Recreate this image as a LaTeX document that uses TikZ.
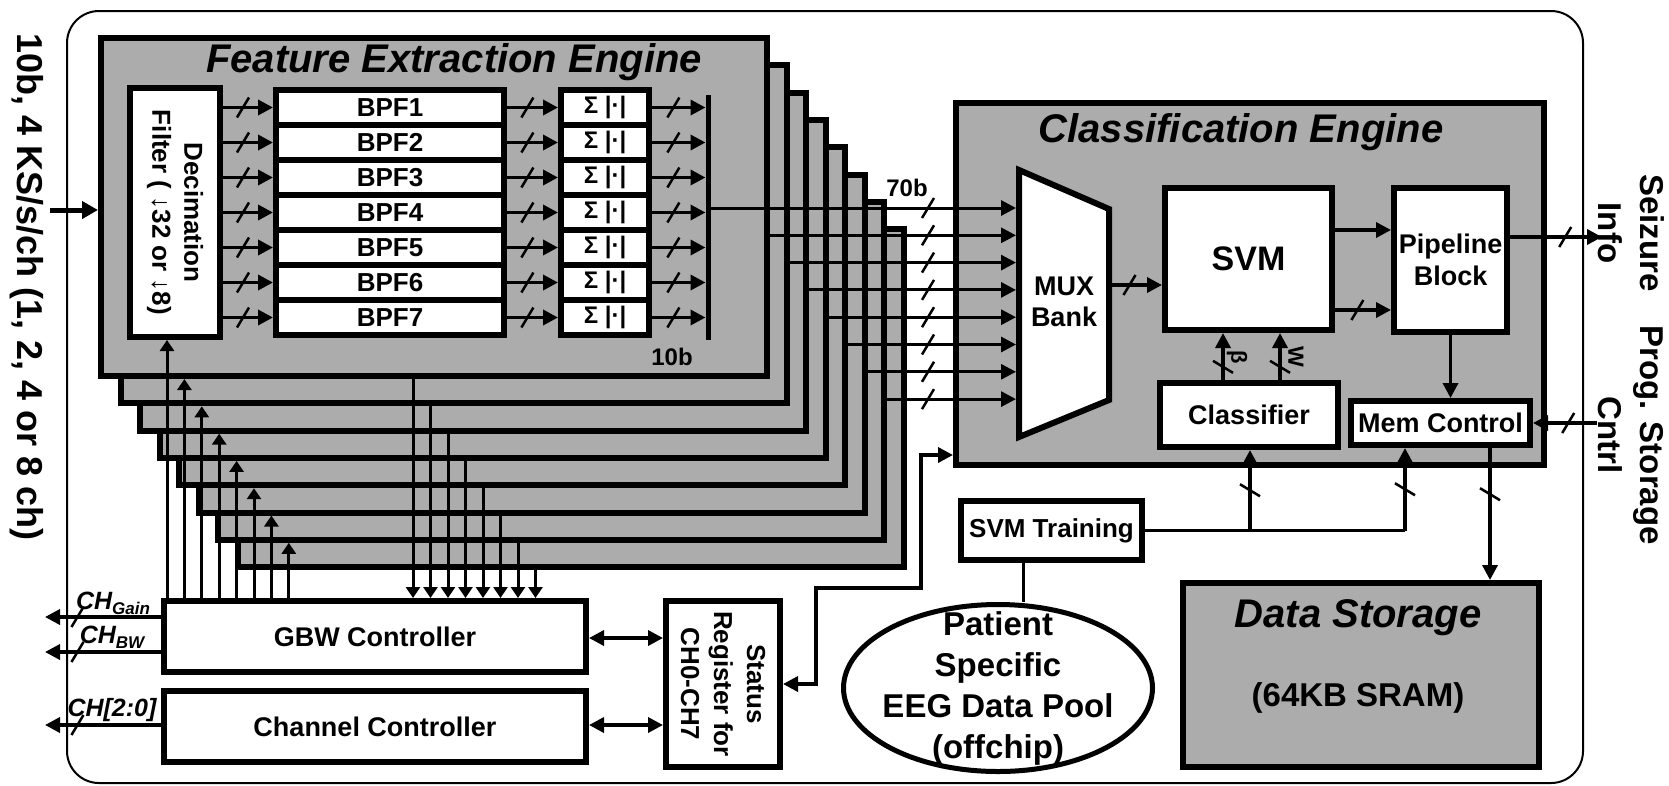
\documentclass[tikz,border=0pt]{standalone}
\usepackage{fontspec}
\setmainfont{Liberation Sans}
\usetikzlibrary{arrows.meta,decorations.markings,shapes.geometric,calc}
\definecolor{fillgray}{RGB}{172,172,172}
\newcommand{\fsb}[2]{\fontsize{#1}{#2}\selectfont}
\begin{document}
\begin{tikzpicture}[x=1pt,y=-1pt,
 box/.style={draw,line width=6pt,fill=white,inner sep=0pt,font=\bfseries\fsb{27}{32}},
 gbox/.style={box,fill=fillgray},
 layer/.style={draw,line width=6pt,fill=fillgray},
 arr/.style={line width=3.5pt,-{Triangle[length=15pt,width=15pt]}},
 darr/.style={line width=3.5pt,{Triangle[length=15pt,width=15pt]}-{Triangle[length=15pt,width=15pt]}},
 ctl/.style={line width=3pt,-{Triangle[length=11pt,width=14pt]}},
 wire/.style={line width=3pt},
 busmark/.style={postaction={decorate,decoration={markings,mark=at position #1 with {\draw[-,line width=2.5pt] (-6pt,-10pt) -- (6pt,10pt);}}}},
 lbl/.style={font=\bfseries\fsb{24}{28},inner sep=0pt},
 rlbl/.style={rotate=-90,align=center,inner sep=0pt},
]
\useasboundingbox (0,0) rectangle (1669,785);

% outer frame
\draw[line width=2pt,rounded corners=32pt] (67,11) rectangle (1583,783);

% input label and arrow
\node[rlbl,font=\bfseries\fsb{36}{40}] (inlbl) at (27,287) {10b, 4 KS/s/ch (1, 2, 4 or 8 ch)};
\coordinate (inpt) at (50,210);
\coordinate (fein) at (98,210);
\draw[line width=5pt,-{Triangle[length=16pt,width=17pt]}] (inpt) -- (fein);

% classification engine
\node[gbox,minimum width=588pt,minimum height=362pt] (ce) at (1250,284) {};
\node[font=\bfseries\itshape\fsb{40}{44}] (cetitle) at (1241,132) {Classification Engine};
\draw[line width=6pt,fill=white,line join=miter] (1019,170) -- (1109,209) -- (1109,400) -- (1019,437) -- cycle;
\node[font=\bfseries\fsb{27}{31},align=center] (mux) at (1064,302) {MUX\\Bank};
\coordinate (muxout) at (1112,285);
\node[box,minimum width=167pt,minimum height=142pt,font=\bfseries\fsb{34}{38}] (svm) at (1248.5,259) {SVM};
\node[box,minimum width=113pt,minimum height=144pt,align=center] (pipe) at (1450.5,260) {Pipeline\\Block};
\node[box,minimum width=178pt,minimum height=64pt] (cls) at (1249,415) {Classifier};
\node[box,minimum width=179pt,minimum height=44pt] (mem) at (1440.5,423) {Mem Control};

\draw[arr,busmark=0.35] (muxout) -- (svm.west |- muxout);
\draw[arr] (svm.east |- 0,230) -- (pipe.west |- 0,230);
\draw[arr,busmark=0.4] (svm.east |- 0,310) -- (pipe.west |- 0,310);
\draw[arr,busmark=0.28] (cls.north -| 1223,0) -- (svm.south -| 1223,0);
\draw[arr,busmark=0.28] (cls.north -| 1280,0) -- (svm.south -| 1280,0);
\node[rlbl,font=\bfseries\fsb{22}{24}] (betalbl) at (1237,357) {β};
\node[rlbl,font=\bfseries\fsb{22}{24}] (wlbl) at (1296,357) {W};
\draw[arr] (pipe.south) -- (mem.north -| pipe.south);

% right side labels
\node[rlbl,font=\bfseries\fsb{33}{42}] (seiz) at (1631,233) {Seizure\\Info};
\node[rlbl,font=\bfseries\fsb{33}{42}] (prog) at (1631,435) {Prog. Storage\\Cntrl};
\coordinate (seizend) at (1602,237);
\coordinate (progstart) at (1597,423);
\draw[arr,busmark=0.6] (pipe.east |- seizend) -- (seizend);
\draw[arr,busmark=0.45] (progstart) -- (mem.east);

% data storage
\node[gbox,minimum width=356pt,minimum height=184pt] (store) at (1361,675) {};
\node[font=\bfseries\itshape\fsb{40}{44}] (storetitle) at (1358,618) {Data Storage};
\node[font=\bfseries\fsb{33}{38}] (storesub) at (1358,698) {(64KB SRAM)};
\draw[arr,busmark=0.35] (mem.south -| 1490,0) -- (store.north -| 1490,0);

% SVM training and data pool
\node[box,minimum width=181pt,minimum height=59pt,font=\bfseries\fsb{26}{30}] (train) at (1051.5,530.5) {SVM Training};
\node[draw,ellipse,line width=5pt,minimum width=309pt,minimum height=167pt,inner sep=0pt,fill=white] (pool) at (998,688) {};
\node[align=center,font=\bfseries\fsb{33}{41}] (pooltxt) at (998,688) {Patient\\Specific\\EEG Data Pool\\(offchip)};
\draw[wire] (train.south -| 1023,0) -- (pool.north -| 1023,0);
\coordinate (trmem) at (1405,530.5);
\coordinate (trcls) at (1250,530.5);
\draw[wire] (train.east) -- (trmem);
\draw[arr,busmark=0.5] (trmem) -- (mem.south -| trmem);
\draw[arr,busmark=0.5] (trcls) -- (cls.south -| trcls);

% controllers
\node[box,minimum width=422pt,minimum height=71pt] (gbw) at (375,636.5) {GBW Controller};
\node[box,minimum width=422pt,minimum height=71pt] (chan) at (375,726.5) {Channel Controller};
\node[box,minimum width=114pt,minimum height=166pt] (status) at (723,684) {};
\node[rlbl,font=\bfseries\fsb{26}{33}] (stattxt) at (status.center) {Status\\Register for\\CH0-CH7};
\draw[darr] (gbw.east |- 0,638) -- (status.west |- 0,638);
\draw[darr] (chan.east |- 0,725) -- (status.west |- 0,725);
\draw[darr] (status.east) -- (816,684) -- (816,588) -- (921,588) -- (921,455) -- (ce.west |- 0,455);

\draw[arr,busmark=0.72] (gbw.west |- 0,617) -- (45,617);
\draw[arr,busmark=0.72] (gbw.west |- 0,652) -- (45,652);
\draw[arr,busmark=0.72] (chan.west |- 0,725) -- (45,725);
\node[font=\bfseries\itshape\fsb{25}{28}] (chgain) at (113,603) {CH\fsb{17}{20}\raisebox{-5pt}{Gain}};
\node[font=\bfseries\itshape\fsb{25}{28}] (chbw) at (112,637) {CH\fsb{17}{20}\raisebox{-5pt}{BW}};
\node[font=\bfseries\itshape\fsb{25}{28}] (chsel) at (112,710) {CH[2:0]};

% feature extraction layers (back to front)
\foreach \k in {7,6,5,4,3,2,1,0}{
  \pgfmathsetmacro{\dx}{19.5*\k}
  \pgfmathsetmacro{\dy}{27.3*\k}
  \draw[layer] ({101+\dx},{38+\dy}) rectangle ++(666,338);
  \draw[arr,line width=3pt,busmark=-88pt] ({708+\dx},{208+\dy}) -- (1016,{208+\dy});
  \pgfmathsetmacro{\ux}{167+17.4*\k}
  \pgfmathsetmacro{\uy}{\k==0 ? 340 : 351.7+27.3*\k}
  \draw[ctl] (\ux,0 |- gbw.north) -- (\ux,\uy);
  \pgfmathsetmacro{\vx}{413+17.5*\k}
  \draw[ctl] (\vx,{379+\dy}) -- (\vx,0 |- gbw.north);
}

% front layer content
\node[font=\bfseries\itshape\fsb{40}{44}] (fetitle) at (454,62) {Feature Extraction Engine};
\node[box,minimum width=90pt,minimum height=249pt] (dec) at (175,212.5) {};
\node[rlbl,font=\bfseries\fsb{26}{32}] (dectxt) at (dec.center) {Decimation\\Filter ( ↓32 or ↓8)};
\foreach \i in {1,...,7}{
  \node[box,minimum width=228pt,minimum height=35pt,font=\bfseries\fsb{26}{30}] (b\i) at (390,{72.5+35*\i}) {BPF\i};
  \node[box,minimum width=88pt,minimum height=35pt,font=\bfseries\fsb{24}{28}] (s\i) at (605,{72.5+35*\i}) {Σ |·|};
}
\coordinate (bartop) at (708,95);
\coordinate (barbot) at (708,340);
\draw[line width=5pt] (bartop) -- (barbot);
\foreach \i in {1,...,7}{
  \draw[arr,busmark=0.4] (dec.east |- b\i) -- (b\i.west);
  \draw[arr,busmark=0.4] (b\i.east) -- (s\i.west);
  \draw[arr,busmark=0.4] (s\i.east) -- (705.5,0 |- s\i);
}
\node[lbl] (tenb) at (672,357) {10b};
\node[lbl] (sevb) at (907,188) {70b};
\end{tikzpicture}
\end{document}
